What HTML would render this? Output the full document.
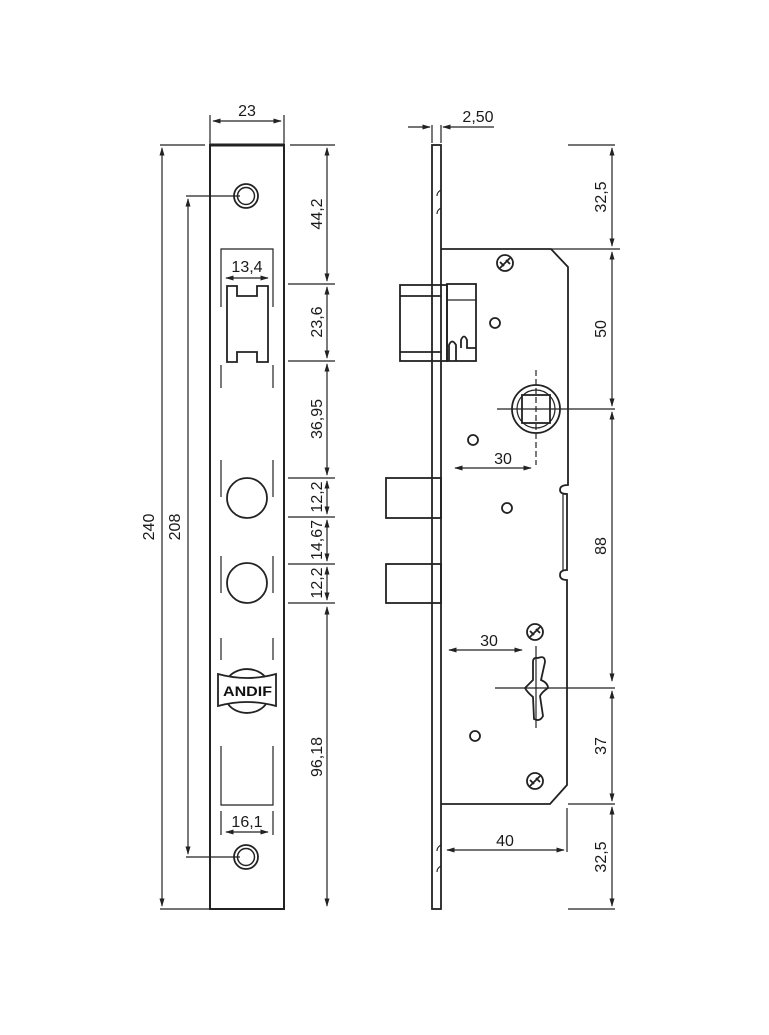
<!DOCTYPE html>
<html><head><meta charset="utf-8"><style>
html,body{margin:0;padding:0;background:#fff}
svg{display:block}
text{font-family:"Liberation Sans",sans-serif;font-size:16px;fill:#1a1a1a}
</style></head><body>
<svg width="769" height="1035" viewBox="0 0 769 1035" xmlns="http://www.w3.org/2000/svg">
<defs>
<marker id="a" viewBox="0 0 10 10" refX="9" refY="5" markerWidth="7" markerHeight="7" orient="auto-start-reverse"><path d="M0,2 L10,5 L0,8 z" fill="#222"/></marker>
</defs>
<g stroke="#222" fill="none" stroke-width="1.2">
<!-- LEFT PLATE -->
<rect x="210" y="145" width="74" height="764" stroke-width="2"/>
<line x1="210" y1="145" x2="284" y2="145" stroke-width="3"/>
<line x1="210" y1="115" x2="210" y2="145"/><line x1="284" y1="115" x2="284" y2="145"/>
<line x1="213" y1="121" x2="281" y2="121" marker-start="url(#a)" marker-end="url(#a)"/>
<line x1="160" y1="145" x2="205" y2="145"/><line x1="160" y1="909" x2="210" y2="909"/>
<line x1="162" y1="148" x2="162" y2="906" marker-start="url(#a)" marker-end="url(#a)"/>
<line x1="186" y1="196" x2="240" y2="196"/><line x1="186" y1="857" x2="240" y2="857"/>
<line x1="188" y1="199" x2="188" y2="854" marker-start="url(#a)" marker-end="url(#a)"/>
<circle cx="246" cy="196" r="12" stroke-width="1.8"/><circle cx="246" cy="196" r="8.5" stroke-width="1.5"/>
<circle cx="246" cy="857" r="12" stroke-width="1.8"/><circle cx="246" cy="857" r="8.5" stroke-width="1.5"/>
<path d="M221,307 V249 H273 V307"/>
<line x1="226" y1="278" x2="268" y2="278" marker-start="url(#a)" marker-end="url(#a)"/>
<path d="M227,286 H237 V296 H257 V286 H268 V362 H257 V352 H237 V362 H227 Z" stroke-width="1.8"/>
<line x1="221" y1="365" x2="221" y2="388"/><line x1="273" y1="365" x2="273" y2="388"/>
<line x1="221" y1="460" x2="221" y2="497"/><line x1="273" y1="460" x2="273" y2="497"/>
<line x1="221" y1="556" x2="221" y2="593"/><line x1="273" y1="556" x2="273" y2="593"/>
<line x1="221" y1="638" x2="221" y2="660"/><line x1="273" y1="638" x2="273" y2="660"/>
<path d="M221,746 V805 H273 V746"/>
<line x1="221" y1="811" x2="221" y2="835"/><line x1="273" y1="811" x2="273" y2="835"/>
<line x1="226" y1="832" x2="268" y2="832" marker-start="url(#a)" marker-end="url(#a)"/>
<circle cx="247" cy="498" r="20" stroke-width="1.8"/>
<circle cx="247" cy="583" r="20" stroke-width="1.8"/>
<path d="M228,678 A22,18 0 0 1 266,678" stroke-width="1.8"/>
<path d="M228,704 A22,18 0 0 0 266,704" stroke-width="1.8"/>
<path d="M218,674 Q247,682 276,674 V706 Q247,698 218,706 Z" stroke-width="1.8" fill="#fff"/>
<line x1="290" y1="145" x2="335" y2="145"/>
<line x1="288" y1="284" x2="335" y2="284"/>
<line x1="288" y1="361" x2="335" y2="361"/>
<line x1="288" y1="478" x2="335" y2="478"/>
<line x1="288" y1="517" x2="335" y2="517"/>
<line x1="288" y1="564" x2="335" y2="564"/>
<line x1="288" y1="603" x2="335" y2="603"/>
<line x1="327" y1="148" x2="327" y2="281" marker-start="url(#a)" marker-end="url(#a)"/>
<line x1="327" y1="287" x2="327" y2="358" marker-start="url(#a)" marker-end="url(#a)"/>
<line x1="327" y1="364" x2="327" y2="475" marker-start="url(#a)" marker-end="url(#a)"/>
<line x1="327" y1="481" x2="327" y2="514" marker-start="url(#a)" marker-end="url(#a)"/>
<line x1="327" y1="520" x2="327" y2="561" marker-start="url(#a)" marker-end="url(#a)"/>
<line x1="327" y1="567" x2="327" y2="600" marker-start="url(#a)" marker-end="url(#a)"/>
<line x1="327" y1="607" x2="327" y2="906" marker-start="url(#a)" marker-end="url(#a)"/>

<!-- RIGHT VIEW -->
<rect x="432" y="145" width="9" height="764" stroke-width="1.8"/>
<path d="M441,190 q-4,2 -4,6 M441,208 q-4,2 -4,6 M441,845 q-4,2 -4,6 M441,866 q-4,2 -4,6"/>
<line x1="432" y1="125" x2="432" y2="143"/><line x1="441" y1="125" x2="441" y2="143"/>
<line x1="408" y1="127" x2="430" y2="127" marker-end="url(#a)"/>
<line x1="494" y1="127" x2="443" y2="127" marker-end="url(#a)"/>
<path d="M441,249 H551 L568,267 V485 Q560,485 560,490 Q560,494 567,494 V570 Q560,570 560,575 Q560,580 567,580 V785 L550,804 H441" stroke-width="1.8"/>
<line x1="563" y1="494" x2="563" y2="570"/>
<line x1="551" y1="249" x2="620" y2="249"/>
<rect x="400" y="285" width="47" height="76" stroke-width="1.8"/>
<rect x="447" y="284" width="29" height="77" stroke-width="1.8"/>
<line x1="400" y1="296" x2="441" y2="296" stroke-width="1.8"/>
<line x1="400" y1="352" x2="441" y2="352" stroke-width="1.8"/>
<line x1="447" y1="300" x2="476" y2="300"/>
<path d="M449,361 V345 Q452,338 456,345 V361 M461,348 V340 Q464,333 467,340 V348 H476" stroke-width="1.8"/>
<rect x="386" y="478" width="55" height="40" stroke-width="1.8"/>
<rect x="386" y="564" width="55" height="39" stroke-width="1.8"/>
<circle cx="536" cy="409" r="24" stroke-width="1.8"/>
<circle cx="536" cy="409" r="19"/>
<rect x="522" y="395" width="28" height="28" stroke-width="1.8"/>
<line x1="497" y1="409" x2="615" y2="409"/>
<line x1="536" y1="370" x2="536" y2="465" stroke-dasharray="6,3"/>
<circle cx="495" cy="323" r="5" stroke-width="1.8"/>
<circle cx="473" cy="440" r="5" stroke-width="1.8"/>
<circle cx="507" cy="508" r="5" stroke-width="1.8"/>
<circle cx="475" cy="736" r="5" stroke-width="1.8"/>
<g stroke-width="1.8">
<circle cx="505" cy="263" r="8"/><path d="M500,268 L510,258 M500,262 l4,4 M506,260 l4,4"/>
<circle cx="535" cy="632" r="8"/><path d="M530,637 L540,627 M530,631 l4,4 M536,629 l4,4"/>
<circle cx="535" cy="781" r="8"/><path d="M530,786 L540,776 M530,780 l4,4 M536,778 l4,4"/>
</g>
<path d="M538,658 Q545,655 545,662 L541,680 Q548,683 548,688 Q542,692 540,696 L543,716 Q540,722 534,719 L533,697 Q527,692 525,688 Q530,683 533,680 L533,662 Q533,657 538,658 Z" stroke-width="1.8"/>
<line x1="495" y1="688" x2="615" y2="688"/>
<line x1="536" y1="646" x2="536" y2="728"/>
<line x1="455" y1="468" x2="531" y2="468" marker-start="url(#a)" marker-end="url(#a)"/>
<line x1="449" y1="650" x2="522" y2="650" marker-start="url(#a)" marker-end="url(#a)"/>
<line x1="568" y1="145" x2="615" y2="145"/>
<line x1="568" y1="804" x2="615" y2="804"/>
<line x1="568" y1="909" x2="615" y2="909"/>
<line x1="612" y1="148" x2="612" y2="246" marker-start="url(#a)" marker-end="url(#a)"/>
<line x1="612" y1="252" x2="612" y2="406" marker-start="url(#a)" marker-end="url(#a)"/>
<line x1="612" y1="412" x2="612" y2="681" marker-start="url(#a)" marker-end="url(#a)"/>
<line x1="612" y1="691" x2="612" y2="801" marker-start="url(#a)" marker-end="url(#a)"/>
<line x1="612" y1="807" x2="612" y2="906" marker-start="url(#a)" marker-end="url(#a)"/>
<line x1="567" y1="808" x2="567" y2="852"/>
<line x1="447" y1="850" x2="564" y2="850" marker-start="url(#a)" marker-end="url(#a)"/>
</g>
<text x="223" y="696" style="font-size:14px;font-weight:bold;fill:#111" textLength="49" lengthAdjust="spacingAndGlyphs">ANDIF</text>
<text x="247" y="116" text-anchor="middle">23</text>
<text x="247" y="272" text-anchor="middle">13,4</text>
<text x="247" y="827" text-anchor="middle">16,1</text>
<text x="478" y="122" text-anchor="middle">2,50</text>
<text x="503" y="464" text-anchor="middle">30</text>
<text x="489" y="646" text-anchor="middle">30</text>
<text x="505" y="846" text-anchor="middle">40</text>
<g text-anchor="middle">
<text transform="translate(154,527) rotate(-90)">240</text>
<text transform="translate(180,527) rotate(-90)">208</text>
<text transform="translate(322,214) rotate(-90)">44,2</text>
<text transform="translate(322,322) rotate(-90)">23,6</text>
<text transform="translate(322,419) rotate(-90)">36,95</text>
<text transform="translate(322,497) rotate(-90)">12,2</text>
<text transform="translate(322,540) rotate(-90)">14,67</text>
<text transform="translate(322,583) rotate(-90)">12,2</text>
<text transform="translate(322,757) rotate(-90)">96,18</text>
<text transform="translate(606,197) rotate(-90)">32,5</text>
<text transform="translate(606,329) rotate(-90)">50</text>
<text transform="translate(606,546) rotate(-90)">88</text>
<text transform="translate(606,746) rotate(-90)">37</text>
<text transform="translate(606,857) rotate(-90)">32,5</text>
</g>
</svg>
</body></html>
